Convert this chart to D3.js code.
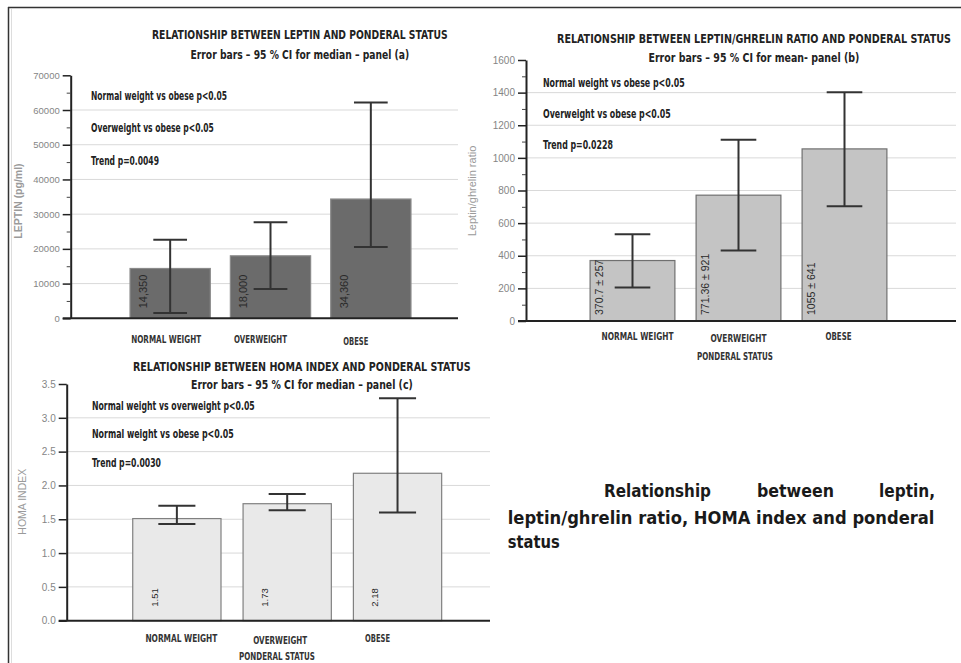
<!DOCTYPE html>
<html>
<head>
<meta charset="utf-8">
<script src="https://cdn.jsdelivr.net/npm/d3@7"></script>
<style>
  body { margin: 0; background: #fff; }
  svg { display: block; }
  .narrow { font-family: "Liberation Sans Narrow", "DejaVu Sans Condensed", "Open Sans", sans-serif; }
  .tick text { font-family: "Liberation Sans", Arial, sans-serif; fill: #858585; }
</style>
</head>
<body>
<div id="chart"></div>
<script>
// ---- data ----
var categories = ["NORMAL WEIGHT", "OVERWEIGHT", "OBESE"];

var leptinMedian = [14350, 18000, 34360];
var leptinLow    = [1500, 8450, 20550];
var leptinHigh   = [22650, 27650, 62200];
var leptinLabels = ["14,350", "18,000", "34,360"];
var leptinTicks  = [0, 10000, 20000, 30000, 40000, 50000, 60000, 70000];
var leptinMinor  = [5000, 15000, 25000, 35000, 45000, 55000, 65000];
var leptinNotes  = ["Normal weight vs obese p<0.05", "Overweight vs obese p<0.05", "Trend p=0.0049"];

var ratioMean    = [370.7, 771.36, 1055];
var ratioLow     = [205, 432, 704];
var ratioHigh    = [532, 1111, 1403];
var ratioLabels  = ["370.7 \u00b1 257", "771.36 \u00b1 921", "1055 \u00b1 641"];
var ratioTicks   = [0, 200, 400, 600, 800, 1000, 1200, 1400, 1600];
var ratioMinor   = [100, 300, 500, 700, 900, 1100, 1300, 1500];
var ratioNotes   = ["Normal weight vs obese p<0.05", "Overweight vs obese p<0.05", "Trend p=0.0228"];

var homaMedian   = [1.51, 1.73, 2.18];
var homaLow      = [1.43, 1.633, 1.60];
var homaHigh     = [1.70, 1.874, 3.29];
var homaLabels   = ["1.51", "1.73", "2.18"];
var homaTicks    = [0, 0.5, 1.0, 1.5, 2.0, 2.5, 3.0, 3.5];
var homaNotes    = ["Normal weight vs overweight p<0.05", "Normal weight  vs obese p<0.05", "Trend p=0.0030"];

var captionWords = ["Relationship", "between", "leptin,"];
var captionLine2 = "leptin/ghrelin ratio, HOMA index and ponderal";
var captionLine3 = "status";

var W = 961, H = 663;

var svg = d3.select("#chart").append("svg")
  .attr("width", W)
  .attr("height", H);

// page frame
svg.append("line").attr("x1", 8).attr("x2", W).attr("y1", 7.5).attr("y2", 7.5)
  .attr("stroke", "#333").attr("stroke-width", 1.5);
svg.append("line").attr("x1", 8.5).attr("x2", 8.5).attr("y1", 7).attr("y2", H)
  .attr("stroke", "#333").attr("stroke-width", 1.5);
svg.append("line").attr("x1", 11.5).attr("x2", 11.5).attr("y1", 9).attr("y2", H)
  .attr("stroke", "#ddd").attr("stroke-width", 1);

// squeeze a text horizontally to the width it has in the picture
function fit(sel, w) {
  sel.each(function(d, i) {
    var t = d3.select(this);
    var tw = typeof w === "function" ? w(d, i) : w;
    var nat = this.getComputedTextLength();
    var x = +t.attr("x") || 0, y = +t.attr("y") || 0;
    t.attr("x", 0).attr("y", 0)
      .attr("transform", "translate(" + x + "," + y + ") scale(" + (tw / nat) + ",1)");
  });
}

function drawPanel(p) {
  var g = svg.append("g");

  var y = d3.scaleLinear()
    .domain([0, p.ticks[p.ticks.length - 1]])
    .range([p.yBase, p.yTop]);

  var x = d3.scaleBand()
    .domain(categories)
    .range(p.band)
    .paddingInner(0.2)
    .paddingOuter(0.1);

  // grid
  g.append("g").selectAll("line")
    .data(p.ticks.slice(1, -1))
    .enter().append("line")
    .attr("x1", p.x0).attr("x2", p.xEnd)
    .attr("y1", d => y(d)).attr("y2", d => y(d))
    .attr("stroke", "#d9d9d9").attr("stroke-width", 1);

  // bars
  g.append("g").selectAll("rect")
    .data(p.vals)
    .enter().append("rect")
    .attr("x", (d, i) => x(categories[i]))
    .attr("y", d => y(d))
    .attr("width", x.bandwidth())
    .attr("height", d => p.yBase - y(d))
    .attr("fill", p.fill)
    .attr("stroke", p.stroke)
    .attr("stroke-width", 1.2);

  // error bars
  var cap = x.bandwidth() * 0.21;
  var eb = g.append("g").attr("stroke", "#333").attr("stroke-width", 2);
  p.vals.forEach(function(d, i) {
    var cx = x(categories[i]) + x.bandwidth() / 2;
    eb.append("line").attr("x1", cx).attr("x2", cx)
      .attr("y1", y(p.lo[i])).attr("y2", y(p.hi[i]));
    eb.append("line").attr("x1", cx - cap).attr("x2", cx + cap)
      .attr("y1", y(p.lo[i])).attr("y2", y(p.lo[i]));
    eb.append("line").attr("x1", cx - cap).attr("x2", cx + cap)
      .attr("y1", y(p.hi[i])).attr("y2", y(p.hi[i]));
  });

  // value labels inside the bars
  g.append("g").selectAll("text")
    .data(p.labels)
    .enter().append("text")
    .attr("transform", (d, i) => "translate(" + (x(categories[i]) + p.valDx) + "," + (p.yBase - p.valDy) + ") rotate(-90)")
    .attr("dy", "0.35em")
    .attr("font-family", "Liberation Sans, Arial, sans-serif")
    .attr("font-size", p.valSize)
    .attr("fill", "#2a2a2a")
    .text(d => d);

  // y axis
  var yAxis = g.append("g")
    .attr("transform", "translate(" + p.x0 + ",0)")
    .call(d3.axisLeft(y).tickValues(p.ticks).tickSize(8).tickSizeOuter(0).tickPadding(3).tickFormat(p.fmt));
  yAxis.select(".domain").attr("stroke", "#222").attr("stroke-width", 2);
  yAxis.selectAll(".tick line").attr("stroke", "#222").attr("stroke-width", 1.5);
  yAxis.selectAll(".tick text").attr("font-size", p.tickSize);

  if (p.minor) {
    var m = g.append("g")
      .attr("transform", "translate(" + p.x0 + ",0)")
      .call(d3.axisLeft(y).tickValues(p.minor).tickSize(4).tickFormat(""));
    m.select(".domain").remove();
    m.selectAll(".tick line").attr("stroke", "#444").attr("stroke-width", 1);
  }

  // x axis line
  g.append("line")
    .attr("x1", p.x0 - 8).attr("x2", p.xEnd)
    .attr("y1", p.yBase).attr("y2", p.yBase)
    .attr("stroke", "#222").attr("stroke-width", 2);

  // category labels
  var cl = g.append("g").selectAll("text")
    .data(categories)
    .enter().append("text")
    .attr("class", "narrow")
    .attr("x", (d, i) => x(d) + x.bandwidth() / 2 + p.catDx[i])
    .attr("y", (d, i) => p.catY[i])
    .attr("dy", "0.35em")
    .attr("text-anchor", "middle")
    .attr("font-size", 10)
    .attr("font-weight", "bold")
    .attr("fill", "#333")
    .text(d => d);
  fit(cl, (d, i) => p.catW[i]);

  if (p.xTitle) {
    var xt = g.append("text")
      .attr("class", "narrow")
      .attr("x", p.xTitle[0]).attr("y", p.xTitle[1])
      .attr("dy", "0.35em")
      .attr("text-anchor", "middle")
      .attr("font-size", 10)
      .attr("font-weight", "bold")
      .attr("fill", "#333")
      .text("PONDERAL STATUS");
    fit(xt, 76);
  }

  // titles
  p.title.forEach(function(t, i) {
    var tt = g.append("text")
      .attr("class", "narrow")
      .attr("x", p.titleX - p.titleW[i] / 2)
      .attr("y", p.titleY[i])
      .attr("dy", "0.35em")
      .attr("font-size", 12.5)
      .attr("font-weight", "bold")
      .attr("fill", "#222")
      .text(t);
    fit(tt, p.titleW[i]);
  });

  // notes
  p.notes.forEach(function(t, i) {
    var nt = g.append("text")
      .attr("class", "narrow")
      .attr("x", p.noteX)
      .attr("y", p.noteY[i])
      .attr("dy", "0.35em")
      .attr("font-size", 11.5)
      .attr("font-weight", "bold")
      .attr("fill", "#222")
      .text(t);
    fit(nt, p.noteW[i]);
  });

  // y axis title
  g.append("text")
    .attr("transform", "translate(" + p.yTitle[0] + "," + p.yTitle[1] + ") rotate(-90)")
    .attr("dy", "0.35em")
    .attr("text-anchor", "middle")
    .attr("font-family", "Liberation Sans, Arial, sans-serif")
    .attr("font-size", p.yTitleSize)
    .attr("font-weight", p.yTitleBold ? "bold" : "normal")
    .attr("fill", "#9a9a9a")
    .text(p.yLabel);
}

drawPanel({
  vals: leptinMedian, lo: leptinLow, hi: leptinHigh, labels: leptinLabels,
  ticks: leptinTicks, minor: leptinMinor, fmt: d3.format("d"),
  x0: 70.7, xEnd: 458, yBase: 318.3, yTop: 75.3, band: [120, 421],
  fill: "#6b6b6b", stroke: "#8a8a8a",
  valDx: 13, valDy: 10, valSize: 11, tickSize: 9.5,
  catY: [339, 339, 341], catDx: [-4, -10, -15], catW: [70, 53, 25], xTitle: null,
  title: ["RELATIONSHIP BETWEEN LEPTIN AND PONDERAL STATUS", "Error bars \u2013 95 % CI for median \u2013 panel (a)"],
  titleX: 300, titleY: [35, 55], titleW: [296, 219],
  notes: leptinNotes, noteX: 91, noteY: [96, 128, 161], noteW: [136, 123, 68],
  yLabel: "LEPTIN (pg/ml)", yTitle: [18, 201], yTitleSize: 10.5, yTitleBold: true
});

drawPanel({
  vals: ratioMean, lo: ratioLow, hi: ratioHigh, labels: ratioLabels,
  ticks: ratioTicks, minor: ratioMinor, fmt: d3.format("d"),
  x0: 526, xEnd: 956, yBase: 321, yTop: 60, band: [579.5, 897.5],
  fill: "#c4c4c4", stroke: "#707070",
  valDx: 9, valDy: 6, valSize: 10.5, tickSize: 10,
  catY: [336.7, 338, 336], catDx: [5, 0, -6], catW: [72, 56, 26], xTitle: [735, 356.7],
  title: ["RELATIONSHIP BETWEEN LEPTIN/GHRELIN RATIO AND PONDERAL STATUS", "Error bars \u2013 95 % CI for mean- panel (b)"],
  titleX: 754, titleY: [39, 57.7], titleW: [394, 211],
  notes: ratioNotes, noteX: 543, noteY: [83, 114, 145], noteW: [142, 128, 70],
  yLabel: "Leptin/ghrelin ratio", yTitle: [472, 191], yTitleSize: 11, yTitleBold: false
});

drawPanel({
  vals: homaMedian, lo: homaLow, hi: homaHigh, labels: homaLabels,
  ticks: homaTicks, minor: null, fmt: d3.format(".1f"),
  x0: 66.7, xEnd: 490, yBase: 620.7, yTop: 384, band: [121.7, 452.7],
  fill: "#e9e9e9", stroke: "#808080",
  valDx: 21.6, valDy: 14, valSize: 9.5, tickSize: 10,
  catY: [638.7, 640, 638], catDx: [4.5, -7, -20], catW: [72, 54, 25], xTitle: [277, 656.7],
  title: ["RELATIONSHIP BETWEEN HOMA INDEX AND PONDERAL STATUS", "Error bars \u2013 95 % CI for median \u2013 panel (c)"],
  titleX: 302, titleY: [366.7, 384.3], titleW: [338, 222],
  notes: homaNotes, noteX: 92, noteY: [405.7, 434, 462.7], noteW: [163, 142, 69],
  yLabel: "HOMA INDEX", yTitle: [22.7, 501.7], yTitleSize: 10.5, yTitleBold: false
});

// caption, justified like the source text block
var cap = svg.append("g")
  .attr("class", "narrow")
  .attr("font-size", 17)
  .attr("font-weight", "bold")
  .attr("fill", "#1a1a1a");

var wordX = [604, 757, 879];
var wordW = [107, 77, 56];
captionWords.forEach(function(w, i) {
  var t = cap.append("text").attr("x", wordX[i]).attr("y", 497).text(w);
  fit(t, wordW[i]);
});
fit(cap.append("text").attr("x", 507.7).attr("y", 524).text(captionLine2), 427);
fit(cap.append("text").attr("x", 507.7).attr("y", 548).text(captionLine3), 52);
</script>
</body>
</html>
